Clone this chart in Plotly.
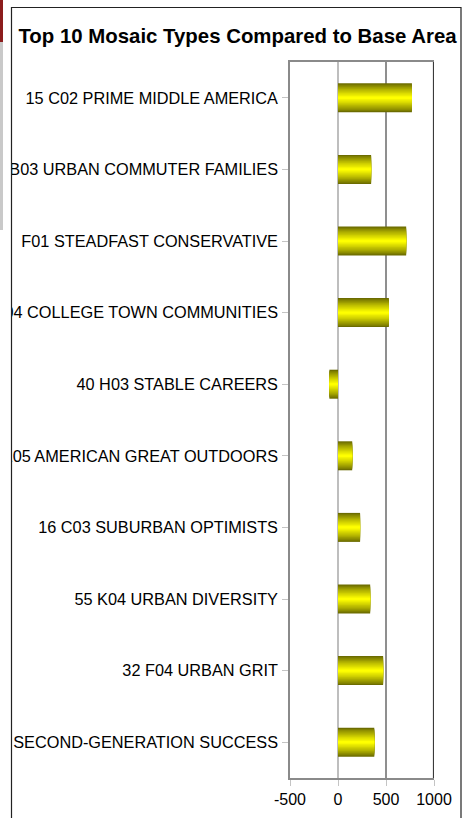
import plotly.graph_objects as go

# ---- data ----
categories = [
    "15 C02 PRIME MIDDLE AMERICA",
    "09 B03 URBAN COMMUTER FAMILIES",
    "F01 STEADFAST CONSERVATIVE",
    "22 E04 COLLEGE TOWN COMMUNITIES",
    "40 H03 STABLE CAREERS",
    "64 L05 AMERICAN GREAT OUTDOORS",
    "16 C03 SUBURBAN OPTIMISTS",
    "55 K04 URBAN DIVERSITY",
    "32 F04 URBAN GRIT",
    "47 I05 SECOND-GENERATION SUCCESS",
]
values = [770, 345, 710, 530, -90, 148, 230, 335, 470, 378]
x_ticks = [-500, 0, 500, 1000]
x_tick_labels = ["-500", "0", "500", "1000"]
title_text = "Top 10 Mosaic Types Compared to Base Area"

# ---- figure geometry (pixels) ----
W, H = 472, 818
L, R, T, B = 290, 434, 62, 778


def px_x(p):
    return (p - L) / (R - L)


def px_y(p):
    return (B - p) / (B - T)


fig = go.Figure()

# gradient bars: layered overlay bars, narrowing toward a bright centre
N = 12
full_w = 0.405
for i in range(N):
    t = (i / (N - 1)) ** 0.85
    r = int(108 + (255 - 108) * t)
    g = int(108 + (255 - 108) * t)
    col = f"rgb({r},{g},0)"
    fig.add_trace(go.Bar(
        y=categories, x=values, orientation="h",
        width=full_w * (1 - i / N),
        marker=dict(color=col, line=dict(width=0)),
        showlegend=False, hoverinfo="skip" if i else "x+y",
    ))

shapes = []
# vertical gridlines at tick values (different greys like the source)
grid_colors = {0: "#a8a8a8", 500: "#6a6a6a", 1000: "#3a3a3a"}
grid_widths = {0: 1.5, 500: 1.5, 1000: 2.2}
for v in x_ticks:
    if v in grid_colors:
        shapes.append(dict(type="line", xref="x", yref="paper", x0=v, x1=v, y0=0, y1=1,
                           line=dict(color=grid_colors[v], width=grid_widths[v]),
                           layer="below" if v != 1000 else "above"))

# clip the labels at the chart frame: white area left of the frame
shapes.append(dict(type="rect", xref="paper", yref="paper",
                   x0=px_x(-5), x1=px_x(11), y0=px_y(830), y1=px_y(-5),
                   fillcolor="white", line=dict(width=0), layer="above"))
# host-page strip on the far left
shapes.append(dict(type="rect", xref="paper", yref="paper",
                   x0=px_x(0), x1=px_x(3), y0=px_y(42), y1=px_y(0),
                   fillcolor="#8c1d1d", line=dict(width=0), layer="above"))
shapes.append(dict(type="rect", xref="paper", yref="paper",
                   x0=px_x(0), x1=px_x(3), y0=px_y(230), y1=px_y(42),
                   fillcolor="#c9c9c9", line=dict(width=0), layer="above"))
# chart frame
shapes.append(dict(type="rect", xref="paper", yref="paper",
                   x0=px_x(11.5), x1=px_x(461), y0=px_y(840), y1=px_y(7.5),
                   fillcolor="rgba(0,0,0,0)", line=dict(color="#222", width=1.2), layer="above"))

fig.update_layout(
    width=W, height=H,
    margin=dict(l=L, r=W - R, t=T, b=H - B, pad=0, autoexpand=False),
    paper_bgcolor="white", plot_bgcolor="white",
    barmode="overlay",
    font=dict(family="Liberation Sans, Arial, sans-serif", size=16, color="#000"),
    title=dict(text="<b>" + title_text + "</b>", x=237.5 / W, xref="container", xanchor="center",
               y=1 - 36 / H, yref="container", yanchor="middle",
               font=dict(size=20.4, color="#000", family="Liberation Sans, Arial, sans-serif")),
    shapes=shapes,
    showlegend=False,
)

fig.update_xaxes(
    range=[x_ticks[0], x_ticks[-1]],
    tickvals=x_ticks, ticktext=x_tick_labels, tickangle=0,
    automargin=False,
    showgrid=False, zeroline=False,
    showline=True, linecolor="#8a8a8a", linewidth=1.5, mirror=True,
    ticks="outside", ticklen=6, tickcolor="#c4c4c4", tickwidth=1,
    tickfont=dict(size=16, color="#000"),
)
fig.update_yaxes(
    categoryorder="array", categoryarray=categories,
    autorange="reversed",
    automargin=False,
    showgrid=False, zeroline=False,
    showline=True, linecolor="#8a8a8a", linewidth=1.5,
    ticks="outside", ticklen=6, tickcolor="#c4c4c4", tickwidth=1,
    ticklabelstandoff=1,
    tickfont=dict(size=16.3, color="#000"),
)

fig.write_html(
    "out.html",
    config={"displayModeBar": False},
    post_script="document.body.style.margin='0';document.body.style.overflow='hidden';",
)
